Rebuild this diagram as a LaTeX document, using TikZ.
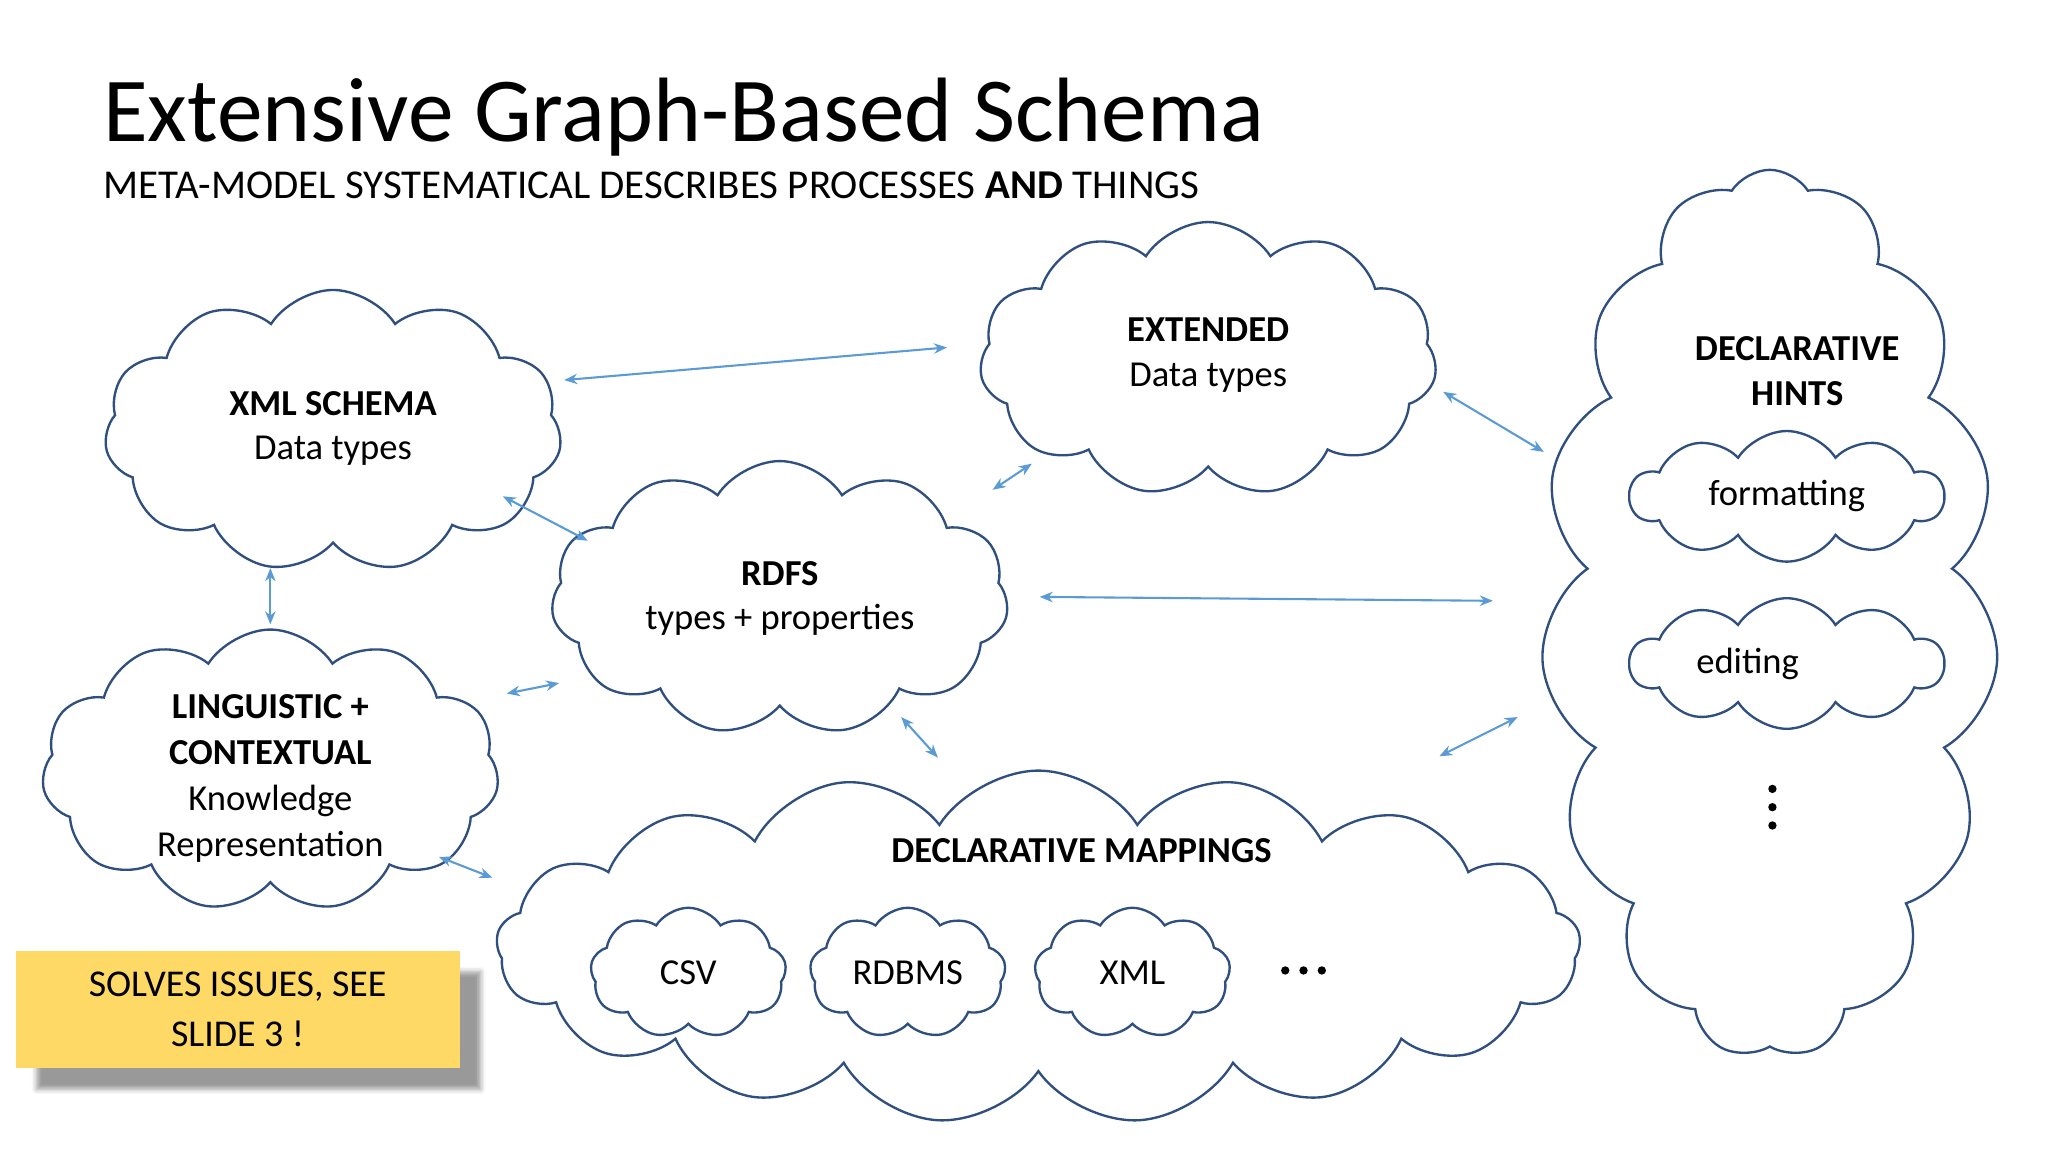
\documentclass[tikz,border=0pt]{standalone}
\usepackage{fontspec}
\setmainfont{Carlito}
\usetikzlibrary{shapes.symbols,arrows.meta,shadows.blur}
\definecolor{cl}{HTML}{2F4F7F}
\definecolor{ar}{HTML}{5B9BD5}
\definecolor{yel}{HTML}{FFD966}
\begin{document}
\begin{tikzpicture}[x=0.5pt,y=-0.5pt,
 cl/.style={cloud,draw=cl,line width=0.9pt,cloud puffs=#1,cloud puff arc=115,aspect=1.6,align=center,inner sep=0pt,font=\fontsize{14}{17}\selectfont},
 cl/.default=11,
 ar/.style={draw=ar,line width=0.8pt,{Stealth[length=5pt,width=4pt]}-{Stealth[length=5pt,width=4pt]}},
 dot/.style={circle,fill=black,inner sep=0pt,minimum size=3.2pt},
 lab/.style={font=\fontsize{14}{17}\selectfont,align=center}]
\useasboundingbox (0,0) rectangle (1568,882);
\node[anchor=base west,font=\fontsize{35}{40}\selectfont] (t) at (72,108) {Extensive Graph-Based Schema};
\node[anchor=base west,font=\fontsize{15.7}{20}\selectfont] (st) at (72,152) {META-MODEL SYSTEMATICAL DESCRIBES PROCESSES \textbf{AND} THINGS};

\node[cl,minimum width=175,minimum height=108] (xml) at (255,330) {};
\node[lab] at (255,328) {\textbf{XML SCHEMA}\\Data types};
\node[cl,minimum width=175,minimum height=105] (ext) at (925,275) {};
\node[lab] at (925,272) {\textbf{EXTENDED}\\Data types};
\node[cl,minimum width=175,minimum height=105] (rdfs) at (597,458) {};
\node[lab] at (597,458) {\textbf{RDFS}\\types + properties};
\node[cl,minimum width=175,minimum height=108] (ling) at (207,590) {};
\node[lab,font=\fontsize{14}{17.5}\selectfont] at (207,596) {\textbf{LINGUISTIC +}\\\textbf{CONTEXTUAL}\\Knowledge\\Representation};
\node[cl=17,aspect=3,minimum width=415,minimum height=135] (map) at (795,725) {};
\node[lab] at (828,651) {\textbf{DECLARATIVE MAPPINGS}};
\node[cl=15,aspect=0.5,minimum width=175,minimum height=340] (hint) at (1355,470) {};
\node[lab] at (1376,284) {\textbf{DECLARATIVE}\\\textbf{HINTS}};
\node[cl=10,aspect=2.4,minimum width=120,minimum height=50,font=\fontsize{14}{17}\selectfont] (fmt) at (1368,380) {formatting};
\node[cl=10,aspect=2.4,minimum width=120,minimum height=50,font=\fontsize{14}{17}\selectfont] (edt) at (1368,508) {\hspace*{-30pt}editing};
\node[dot] (v1) at (1357,604) {};
\node[dot] (v2) at (1357,618) {};
\node[dot] (v3) at (1357,632) {};
\node[cl=9,aspect=1.5,minimum width=75,minimum height=50] (csv) at (527,745) {CSV};
\node[cl=9,aspect=1.5,minimum width=75,minimum height=50] (rdb) at (695,745) {RDBMS};
\node[cl=9,aspect=1.5,minimum width=75,minimum height=50] (xm) at (867,745) {XML};
\node[dot] (h1) at (984,743) {};
\node[dot] (h2) at (998,743) {};
\node[dot] (h3) at (1012,743) {};

\node[fill=yel,minimum width=170,minimum height=45,align=center,font=\fontsize{14.5}{19}\selectfont,
 blur shadow={shadow xshift=8pt,shadow yshift=-8pt,shadow opacity=40}] (box) at (182,773) {SOLVES ISSUES, SEE\\SLIDE 3 !};

\coordinate (a1) at (432,291); \coordinate (a2) at (725,266);
\coordinate (b1) at (1105,300); \coordinate (b2) at (1182,346);
\coordinate (c1) at (385,380); \coordinate (c2) at (450,414);
\coordinate (d1) at (760,375); \coordinate (d2) at (790,355);
\coordinate (e1) at (796,457); \coordinate (e2) at (1143,460);
\coordinate (f1) at (207,435); \coordinate (f2) at (207,478);
\coordinate (g1) at (388,531); \coordinate (g2) at (428,523);
\coordinate (k1) at (690,549); \coordinate (k2) at (718,580);
\coordinate (i1) at (1102,579); \coordinate (i2) at (1162,549);
\coordinate (j1) at (336,656); \coordinate (j2) at (377,672);
\foreach \p in {a,b,c,d,e,f,g,k,i,j} \draw[ar] (\p1) -- (\p2);
\end{tikzpicture}
\end{document}
